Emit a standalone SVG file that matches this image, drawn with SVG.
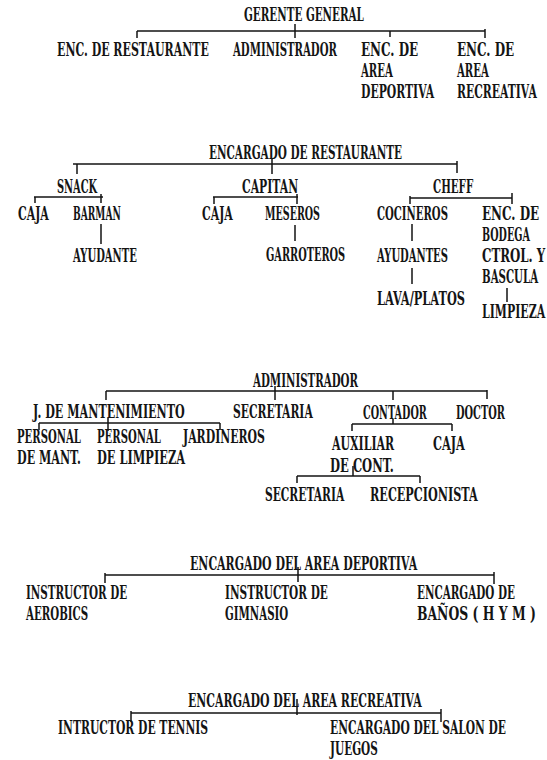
<svg xmlns="http://www.w3.org/2000/svg" width="547" height="760" viewBox="0 0 547 760">
<style>
text{font-family:"DejaVu Serif","Liberation Serif",serif;font-weight:bold;font-size:18px;fill:#141414}
.c path{stroke:#141414;stroke-width:1.5;fill:none}
</style>
<rect width="547" height="760" fill="#fff"/>
<!-- Chart 1 -->
<g id="gerente"><text transform="matrix(0.55 0 0 1 244 21)" textLength="218" lengthAdjust="spacingAndGlyphs">GERENTE GENERAL</text></g>
<g id="enc-rest1"><text transform="matrix(0.55 0 0 1 57 56)" textLength="276" lengthAdjust="spacingAndGlyphs">ENC. DE RESTAURANTE</text></g>
<g id="admin1"><text transform="matrix(0.55 0 0 1 233 56)" textLength="189" lengthAdjust="spacingAndGlyphs">ADMINISTRADOR</text></g>
<g id="enc-dep1"><text transform="matrix(0.55 0 0 1 361 56)"><tspan x="0" y="0" textLength="104" lengthAdjust="spacingAndGlyphs">ENC. DE</tspan><tspan x="0" y="21" textLength="58" lengthAdjust="spacingAndGlyphs">AREA</tspan><tspan x="0" y="42" textLength="133" lengthAdjust="spacingAndGlyphs">DEPORTIVA</tspan></text></g>
<g id="enc-rec1"><text transform="matrix(0.55 0 0 1 457 56)"><tspan x="0" y="0" textLength="104" lengthAdjust="spacingAndGlyphs">ENC. DE</tspan><tspan x="0" y="21" textLength="58" lengthAdjust="spacingAndGlyphs">AREA</tspan><tspan x="0" y="42" textLength="145" lengthAdjust="spacingAndGlyphs">RECREATIVA</tspan></text></g>
<!-- Chart 2 -->
<g id="enc-rest"><text transform="matrix(0.55 0 0 1 209 159)" textLength="351" lengthAdjust="spacingAndGlyphs">ENCARGADO DE RESTAURANTE</text></g>
<g id="snack"><text transform="matrix(0.55 0 0 1 57 193)" textLength="73" lengthAdjust="spacingAndGlyphs">SNACK</text></g>
<g id="caja1"><text transform="matrix(0.55 0 0 1 18 220)" textLength="56" lengthAdjust="spacingAndGlyphs">CAJA</text></g>
<g id="barman"><text transform="matrix(0.55 0 0 1 73 220)" textLength="87" lengthAdjust="spacingAndGlyphs">BARMAN</text></g>
<g id="ayudante"><text transform="matrix(0.55 0 0 1 73 262)" textLength="116" lengthAdjust="spacingAndGlyphs">AYUDANTE</text></g>
<g id="capitan"><text transform="matrix(0.55 0 0 1 242 193)" textLength="102" lengthAdjust="spacingAndGlyphs">CAPITAN</text></g>
<g id="caja2"><text transform="matrix(0.55 0 0 1 202 220)" textLength="56" lengthAdjust="spacingAndGlyphs">CAJA</text></g>
<g id="meseros"><text transform="matrix(0.55 0 0 1 265 220)" textLength="100" lengthAdjust="spacingAndGlyphs">MESEROS</text></g>
<g id="garroteros"><text transform="matrix(0.55 0 0 1 266 261)" textLength="144" lengthAdjust="spacingAndGlyphs">GARROTEROS</text></g>
<g id="cheff"><text transform="matrix(0.55 0 0 1 433 193)" textLength="73" lengthAdjust="spacingAndGlyphs">CHEFF</text></g>
<g id="cocineros"><text transform="matrix(0.55 0 0 1 377 220)" textLength="129" lengthAdjust="spacingAndGlyphs">COCINEROS</text></g>
<g id="ayudantes"><text transform="matrix(0.55 0 0 1 377 262)" textLength="129" lengthAdjust="spacingAndGlyphs">AYUDANTES</text></g>
<g id="lavaplatos"><text transform="matrix(0.55 0 0 1 377 305)" textLength="160" lengthAdjust="spacingAndGlyphs">LAVA/PLATOS</text></g>
<g id="bodega"><text transform="matrix(0.55 0 0 1 482 220)"><tspan x="0" y="0" textLength="104" lengthAdjust="spacingAndGlyphs">ENC. DE</tspan><tspan x="0" y="21" textLength="87" lengthAdjust="spacingAndGlyphs">BODEGA</tspan><tspan x="0" y="42" textLength="115" lengthAdjust="spacingAndGlyphs">CTROL. Y</tspan><tspan x="0" y="63" textLength="102" lengthAdjust="spacingAndGlyphs">BASCULA</tspan></text></g>
<g id="limpieza"><text transform="matrix(0.55 0 0 1 482 318)" textLength="115" lengthAdjust="spacingAndGlyphs">LIMPIEZA</text></g>
<!-- Chart 3 -->
<g id="admin"><text transform="matrix(0.55 0 0 1 253 387)" textLength="191" lengthAdjust="spacingAndGlyphs">ADMINISTRADOR</text></g>
<g id="jmant"><text transform="matrix(0.55 0 0 1 33 418)" textLength="276" lengthAdjust="spacingAndGlyphs">J. DE MANTENIMIENTO</text></g>
<g id="secretaria1"><text transform="matrix(0.55 0 0 1 233 418)" textLength="145" lengthAdjust="spacingAndGlyphs">SECRETARIA</text></g>
<g id="contador"><text transform="matrix(0.55 0 0 1 363 419)" textLength="116" lengthAdjust="spacingAndGlyphs">CONTADOR</text></g>
<g id="doctor"><text transform="matrix(0.55 0 0 1 456 419)" textLength="89" lengthAdjust="spacingAndGlyphs">DOCTOR</text></g>
<g id="pers-mant"><text transform="matrix(0.55 0 0 1 17 443)"><tspan x="0" y="0" textLength="116" lengthAdjust="spacingAndGlyphs">PERSONAL</tspan><tspan x="0" y="21" textLength="116" lengthAdjust="spacingAndGlyphs">DE MANT.</tspan></text></g>
<g id="pers-limp"><text transform="matrix(0.55 0 0 1 97 443)"><tspan x="0" y="0" textLength="116" lengthAdjust="spacingAndGlyphs">PERSONAL</tspan><tspan x="0" y="21" textLength="160" lengthAdjust="spacingAndGlyphs">DE LIMPIEZA</tspan></text></g>
<g id="jardineros"><text transform="matrix(0.55 0 0 1 183 443)" textLength="149" lengthAdjust="spacingAndGlyphs">JARDINEROS</text></g>
<g id="auxiliar"><text transform="matrix(0.55 0 0 1 332 450)"><tspan x="0" y="0" textLength="113" lengthAdjust="spacingAndGlyphs">AUXILIAR</tspan><tspan x="-3.6" y="22" textLength="116" lengthAdjust="spacingAndGlyphs">DE CONT.</tspan></text></g>
<g id="caja3"><text transform="matrix(0.55 0 0 1 433 450)" textLength="58" lengthAdjust="spacingAndGlyphs">CAJA</text></g>
<g id="secretaria2"><text transform="matrix(0.55 0 0 1 265 501)" textLength="144" lengthAdjust="spacingAndGlyphs">SECRETARIA</text></g>
<g id="recepcionista"><text transform="matrix(0.55 0 0 1 370 501)" textLength="196" lengthAdjust="spacingAndGlyphs">RECEPCIONISTA</text></g>
<!-- Chart 4 -->
<g id="enc-dep"><text transform="matrix(0.55 0 0 1 190 570)" textLength="413" lengthAdjust="spacingAndGlyphs">ENCARGADO DEL AREA DEPORTIVA</text></g>
<g id="aerobics"><text transform="matrix(0.55 0 0 1 26 599)"><tspan x="0" y="0" textLength="184" lengthAdjust="spacingAndGlyphs">INSTRUCTOR DE</tspan><tspan x="0" y="21" textLength="113" lengthAdjust="spacingAndGlyphs">AEROBICS</tspan></text></g>
<g id="gimnasio"><text transform="matrix(0.55 0 0 1 225 599)"><tspan x="0" y="0" textLength="187" lengthAdjust="spacingAndGlyphs">INSTRUCTOR DE</tspan><tspan x="0" y="21" textLength="115" lengthAdjust="spacingAndGlyphs">GIMNASIO</tspan></text></g>
<g id="banos"><text transform="matrix(0.55 0 0 1 417 599)"><tspan x="0" y="0" textLength="178" lengthAdjust="spacingAndGlyphs">ENCARGADO DE</tspan><tspan x="0" y="21" textLength="216" lengthAdjust="spacingAndGlyphs">BAÑOS ( H Y M )</tspan></text></g>
<!-- Chart 5 -->
<g id="enc-rec"><text transform="matrix(0.55 0 0 1 188 707)" textLength="425" lengthAdjust="spacingAndGlyphs">ENCARGADO DEL AREA RECREATIVA</text></g>
<g id="tennis"><text transform="matrix(0.55 0 0 1 58 734)" textLength="273" lengthAdjust="spacingAndGlyphs">INTRUCTOR DE TENNIS</text></g>
<g id="salon"><text transform="matrix(0.55 0 0 1 330 734)"><tspan x="0" y="0" textLength="320" lengthAdjust="spacingAndGlyphs">ENCARGADO DEL SALON DE</tspan><tspan x="0" y="21" textLength="87" lengthAdjust="spacingAndGlyphs">JUEGOS</tspan></text></g>
<g id="connectors" class="c">
<path d="M137 31H485M137 31V38M295 24V38M390 31V37M485 29V38"/>
<path d="M73 164H457M77 164V174M272 159V174M457 161V173"/>
<path d="M34 197H103M35 197V203M101 194V203M101 224V244"/>
<path d="M213 197H298M214 197V204M297 194V204M295 225V241"/>
<path d="M410 198H512M410 196V204M512 193V204M412 224V241M412 268V284M507 288V302"/>
<path d="M106 391H487M106 391V400M275 386V400M393 391V400M487 390V399"/>
<path d="M39 423H220M39 423V430M108 418V431M220 423V430"/>
<path d="M352 424H452M352 424V431M393 419V424M452 424V431"/>
<path d="M297 476H420M297 476V483M353 466V476M420 476V483"/>
<path d="M105 575H494M105 573V583M298 567V582M494 572V584"/>
<path d="M131 713H441M131 711V722M297 699V715M441 709V722"/>
</g>
</svg>
